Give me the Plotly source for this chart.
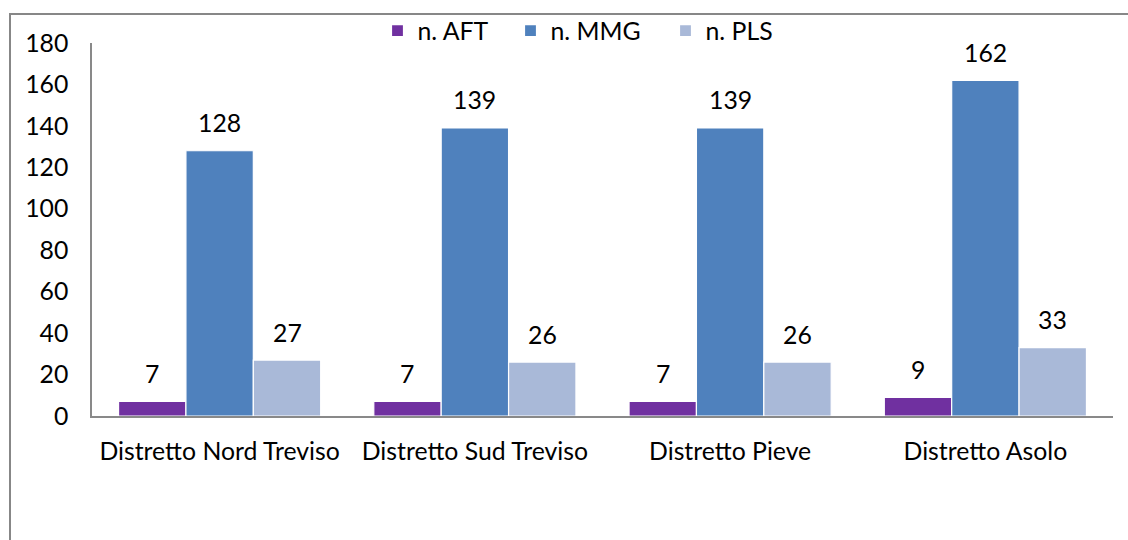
import plotly.graph_objects as go

# Districts and counts per professional category
districts = ["Distretto Nord Treviso", "Distretto Sud Treviso", "Distretto Pieve", "Distretto Asolo"]
aft = [7, 7, 7, 9]
mmg = [128, 139, 139, 162]
pls = [27, 26, 26, 33]

series = [
    ("n. AFT", aft, "#7030A0", 88),
    ("n. MMG", mmg, "#4F81BD", 110),
    ("n. PLS", pls, "#A9B9D8", 84),
]

FONT = "Lato"
FS = 24.8
L, R, T, B = 92, 15, 43, 124
W, H = 1128, 540
plot_w = W - L - R
plot_h = H - T - B

fig = go.Figure()
for name, vals, color, lw in series:
    fig.add_trace(go.Bar(
        name=name, x=districts, y=vals, legendwidth=lw,
        marker=dict(color=color, line=dict(color="white", width=1.2)),
    ))

# value labels above each bar
bar_w = 0.264
for si, (name, vals, color, _) in enumerate(series):
    for ci, v in enumerate(vals):
        fig.add_annotation(
            x=ci + (si - 1) * bar_w, y=v, xref="x", yref="y",
            text=str(v), showarrow=False, yanchor="middle", yshift=28,
            font=dict(family=FONT, size=FS, color="#000"),
        )

# outer frame (left and top edges)
px = lambda p: (p - L) / plot_w
py = lambda p: (H - B - p) / plot_h
fig.add_shape(type="line", xref="paper", yref="paper",
              x0=px(10), x1=px(10), y0=py(14), y1=py(560),
              line=dict(color="#878787", width=2))
fig.add_shape(type="line", xref="paper", yref="paper",
              x0=px(9), x1=px(1140), y0=py(14), y1=py(14),
              line=dict(color="#878787", width=2))

fig.update_layout(
    width=W, height=H,
    margin=dict(l=L, r=R, t=T, b=B, autoexpand=False),
    plot_bgcolor="white", paper_bgcolor="white",
    barmode="group", bargap=0.208, bargroupgap=0.0,
    font=dict(family=FONT, size=FS, color="#000"),
    showlegend=True,
    legend=dict(orientation="h", x=px(586), xanchor="center",
                y=py(31), yanchor="middle",
                font=dict(family=FONT, size=FS, color="#000"),
                itemwidth=30, bgcolor="rgba(0,0,0,0)"),
    xaxis=dict(showline=True, linecolor="#898989", linewidth=1.5,
               showgrid=False, ticks="", ticklabelstandoff=12,
               tickfont=dict(family=FONT, size=FS, color="#000")),
    yaxis=dict(range=[0, 180], dtick=20, showline=True, linecolor="#898989",
               linewidth=1.5, showgrid=False, zeroline=False, ticks="",
               ticklabelstandoff=17,
               tickfont=dict(family=FONT, size=FS, color="#000")),
)

fig.write_html("out.html")
